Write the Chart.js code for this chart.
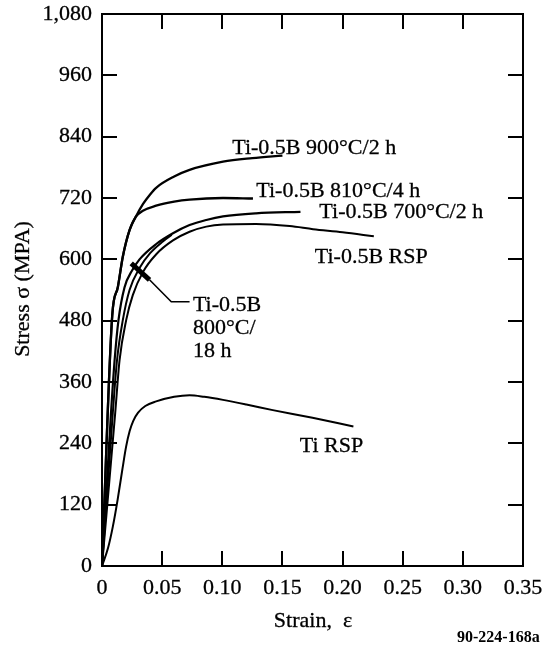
<!DOCTYPE html>
<html>
<head>
<meta charset="utf-8">
<script src="https://cdn.jsdelivr.net/npm/chart.js@4.4.1/dist/chart.umd.min.js"></script>
<style>
    html, body { margin: 0; padding: 0; background: #fff; }
    #wrap { width: 546px; height: 656px; }
</style>
</head>
<body>
<div id="wrap"><canvas id="chart" width="546" height="656"></canvas></div>
<script>
// Stress-strain curves, values
const xTicks = [0, 0.05, 0.10, 0.15, 0.20, 0.25, 0.30, 0.35];
const yTicks = [0, 120, 240, 360, 480, 600, 720, 840, 960, 1080];

const strain900 = [0, 0.0085, 0.0132, 0.0173, 0.0229, 0.028, 0.034, 0.040, 0.045, 0.060, 0.0728, 0.1006, 0.125, 0.150];
const stress900 = [0, 490, 546, 605, 657, 683, 708, 727, 740, 762, 775, 791, 798, 803];

const strain810 = [0, 0.0085, 0.0132, 0.0173, 0.0229, 0.028, 0.034, 0.045, 0.060, 0.0728, 0.1006, 0.1255];
const stress810 = [0, 490, 546, 605, 657, 683, 695, 705, 713, 717, 720, 719];

const strain700 = [0, 0.0075, 0.0105, 0.0137, 0.0187, 0.025, 0.0312, 0.0451, 0.059, 0.0728, 0.0867, 0.1006, 0.128, 0.165];
const stress700 = [0, 300, 403, 481, 545, 578, 600, 630, 651, 667, 677, 684, 690, 693];

const strain800 = [0, 0.009, 0.0125, 0.0173, 0.0229, 0.0312, 0.040, 0.0506, 0.058];
const stress800 = [0, 300, 403, 481, 540, 583, 612, 635, 648];

const strainBRsp = [0, 0.011, 0.0146, 0.0201, 0.0256, 0.034, 0.0451, 0.059, 0.0728, 0.0867, 0.1006, 0.128, 0.156, 0.1755, 0.200, 0.226];
const stressBRsp = [0, 300, 403, 481, 530, 575, 610, 637, 654, 664, 668, 669, 665, 659, 653, 645];

const strainTiRsp = [0, 0.005, 0.009, 0.013, 0.017, 0.020, 0.023, 0.026, 0.030, 0.036, 0.045, 0.060, 0.0728, 0.085, 0.1006, 0.120, 0.142, 0.175, 0.209];
const stressTiRsp = [0, 35, 77, 130, 190, 233, 264, 284, 300, 313, 322, 331, 334, 331, 325, 316, 305, 290, 273];

// leader of the 800°C/18 h label
const leaderBarX = [0.0243, 0.0395];
const leaderBarY = [592, 560];
const leaderX = [0.0395, 0.0576, 0.0728];
const leaderY = [560, 517, 517];

const curveLabels = [
    { lines: ['Ti-0.5B 900°C/2 h'], x: 0.1083, y: 818 },
    { lines: ['Ti-0.5B 810°C/4 h'], x: 0.1283, y: 733 },
    { lines: ['Ti-0.5B 700°C/2 h'], x: 0.1807, y: 692 },
    { lines: ['Ti-0.5B RSP'], x: 0.1769, y: 604 },
    { lines: ['Ti-0.5B', '800°C/', '18 h'], x: 0.0756, y: 511 },
    { lines: ['Ti RSP'], x: 0.1644, y: 235 }
];

const FONT = '"Liberation Serif", "Times New Roman", serif';

function zip(xs, ys) {
    return xs.map((x, i) => ({ x: x, y: ys[i] }));
}

function curve(xs, ys, width) {
    return {
        data: zip(xs, ys),
        borderColor: '#000',
        borderWidth: width,
        pointRadius: 0,
        fill: false,
        cubicInterpolationMode: 'monotone'
    };
}

function straight(xs, ys, width) {
    return Object.assign(curve(xs, ys, width), { cubicInterpolationMode: 'default', tension: 0 });
}

// slightly heavier text, like the scanned original
function inkText(ctx, text, x, y) {
    ctx.fillText(text, x, y);
    ctx.strokeText(text, x, y);
}

const framePlugin = {
    id: 'frame',
    afterDatasetsDraw(chart) {
        const ctx = chart.ctx;
        const a = chart.chartArea;
        const sx = chart.scales.x;
        const sy = chart.scales.y;
        const tick = 15;

        ctx.save();
        ctx.strokeStyle = '#000';
        ctx.lineWidth = 2;
        ctx.strokeRect(a.left, a.top, a.right - a.left, a.bottom - a.top);

        ctx.beginPath();
        xTicks.slice(1, -1).forEach(v => {
            const px = Math.round(sx.getPixelForValue(v));
            ctx.moveTo(px, a.bottom);
            ctx.lineTo(px, a.bottom - tick);
            ctx.moveTo(px, a.top);
            ctx.lineTo(px, a.top + tick);
        });
        yTicks.slice(1, -1).forEach(v => {
            const py = Math.round(sy.getPixelForValue(v));
            ctx.moveTo(a.left, py);
            ctx.lineTo(a.left + tick, py);
            ctx.moveTo(a.right, py);
            ctx.lineTo(a.right - tick, py);
        });
        ctx.stroke();

        ctx.fillStyle = '#000';
        ctx.lineWidth = 0.3;

        // tick labels
        ctx.font = '22px ' + FONT;
        ctx.textAlign = 'center';
        ctx.textBaseline = 'middle';
        xTicks.forEach(v => {
            inkText(ctx, v === 0 ? '0' : v.toFixed(2), sx.getPixelForValue(v), a.bottom + 22);
        });
        ctx.textAlign = 'right';
        yTicks.forEach(v => {
            inkText(ctx, v.toLocaleString('en-US'), a.left - 10, sy.getPixelForValue(v));
        });

        // curve labels
        ctx.textAlign = 'left';
        curveLabels.forEach(l => {
            const px = sx.getPixelForValue(l.x);
            const py = sy.getPixelForValue(l.y);
            l.lines.forEach((t, i) => inkText(ctx, t, px, py + i * 23));
        });

        // axis titles
        ctx.textAlign = 'center';
        inkText(ctx, 'Strain,  ε', 313, 621);

        ctx.save();
        ctx.translate(23, 289);
        ctx.rotate(-Math.PI / 2);
        inkText(ctx, 'Stress σ (MPA)', 0, 0);
        ctx.restore();

        ctx.font = 'bold 16px ' + FONT;
        ctx.textAlign = 'left';
        ctx.fillText('90-224-168a', 457, 638);
        ctx.restore();
    }
};

new Chart(document.getElementById('chart'), {
    type: 'line',
    data: {
        datasets: [
            curve(strain900, stress900, 2.3),
            curve(strain810, stress810, 2.3),
            curve(strain700, stress700, 2.2),
            curve(strain800, stress800, 2),
            curve(strainBRsp, stressBRsp, 2),
            curve(strainTiRsp, stressTiRsp, 2),
            straight(leaderBarX, leaderBarY, 5),
            straight(leaderX, leaderY, 1.6)
        ]
    },
    options: {
        responsive: false,
        animation: false,
        events: [],
        layout: { padding: { top: 14, right: 23, left: 0, bottom: 0 } },
        plugins: {
            legend: { display: false },
            tooltip: { enabled: false }
        },
        scales: {
            x: {
                type: 'linear',
                min: 0,
                max: 0.35,
                afterFit: s => { s.height = 90; },
                grid: { display: false, drawTicks: false },
                border: { display: false },
                ticks: { display: false }
            },
            y: {
                type: 'linear',
                min: 0,
                max: 1080,
                afterFit: s => { s.width = 102; },
                grid: { display: false, drawTicks: false },
                border: { display: false },
                ticks: { display: false }
            }
        }
    },
    plugins: [framePlugin]
});
</script>
</body>
</html>
